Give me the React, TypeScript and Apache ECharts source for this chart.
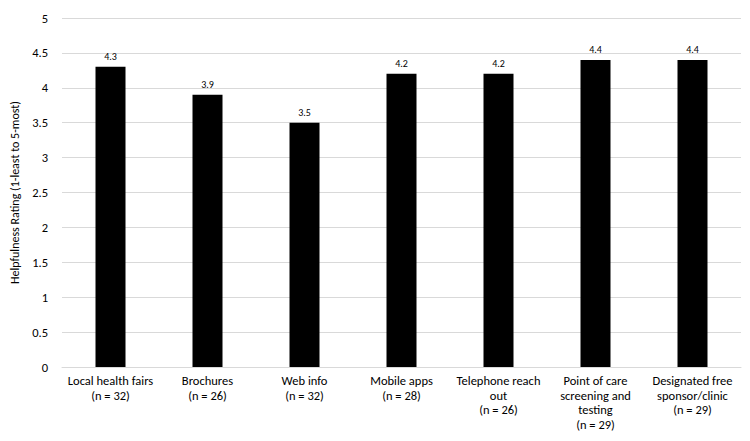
import React, { useEffect, useRef } from "react";
import * as echarts from "echarts";

const categories = [
  "Local health fairs\n(n = 32)",
  "Brochures\n(n = 26)",
  "Web info\n(n = 32)",
  "Mobile apps\n(n = 28)",
  "Telephone reach\nout\n(n = 26)",
  "Point of care\nscreening and\ntesting\n(n = 29)",
  "Designated free\nsponsor/clinic\n(n = 29)",
];
const ratings = [4.3, 3.9, 3.5, 4.2, 4.2, 4.4, 4.4];
const yAxisTitle = "Helpfulness Rating (1-least to 5-most)";

export default function App() {
  const ref = useRef<HTMLDivElement>(null);
  useEffect(() => {
    if (!ref.current) return;
    const chart = echarts.init(ref.current, null, { renderer: "svg" });
    const font = "Carlito, Calibri, 'Open Sans', 'Noto Sans', sans-serif";
    chart.setOption({
      animation: false,
      textStyle: { fontFamily: font },
      grid: { left: 62, right: 9, top: 18, bottom: 74, containLabel: false },
      xAxis: {
        type: "category",
        data: categories,
        axisLine: { lineStyle: { color: "#d9d9d9" } },
        axisTick: { show: false },
        axisLabel: {
          interval: 0,
          color: "#000",
          fontSize: 12.5,
          lineHeight: 14.7,
          margin: 6,
          fontFamily: font,
        },
      },
      yAxis: {
        type: "value",
        min: 0,
        max: 5,
        interval: 0.5,
        name: yAxisTitle,
        nameLocation: "middle",
        nameGap: 40,
        nameTextStyle: { color: "#000", fontSize: 12, fontFamily: font },
        axisLine: { show: false },
        axisTick: { show: false },
        axisLabel: { color: "#000", fontSize: 12.5, margin: 14, fontFamily: font },
        splitLine: { lineStyle: { color: "#d9d9d9" } },
      },
      series: [
        {
          type: "bar",
          data: ratings,
          barWidth: 30,
          itemStyle: { color: "#000" },
          label: {
            show: true,
            position: "top",
            color: "#000",
            fontSize: 10,
            distance: 5,
            fontFamily: font,
          },
        },
      ],
    });
    return () => chart.dispose();
  }, []);
  return <div ref={ref} style={{ width: 750, height: 441, margin: -8 }} />;
}
